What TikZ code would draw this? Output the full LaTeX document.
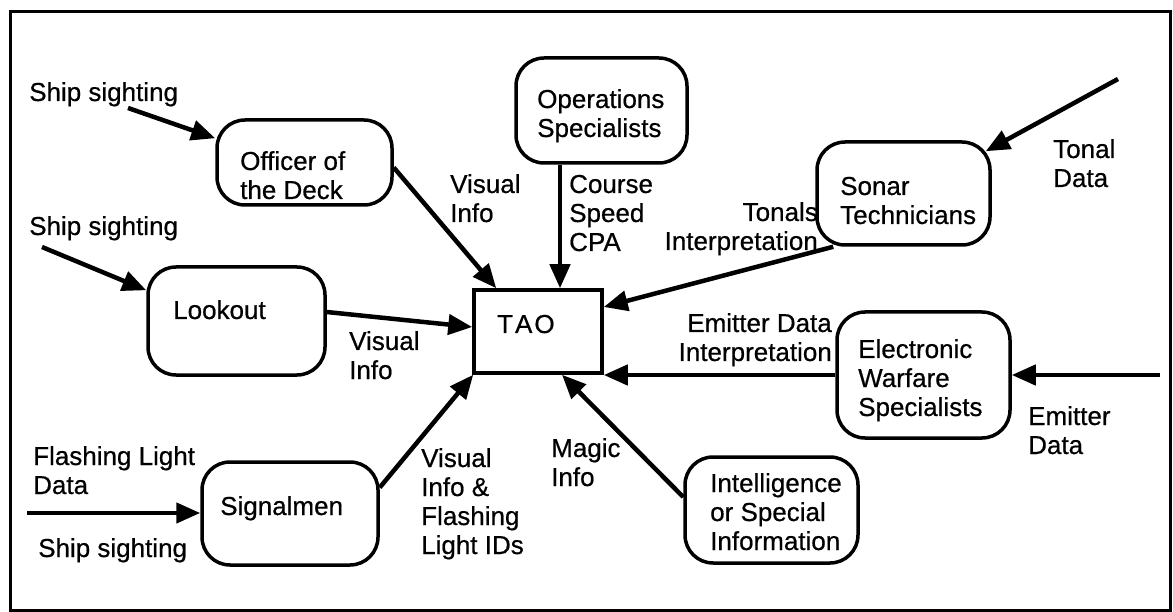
\documentclass[tikz,border=0pt]{standalone}
\usepackage{fontspec}
\setmainfont{Liberation Sans}[FakeBold=0.6]
\usetikzlibrary{arrows.meta,fit}
\newcommand\mlL[1]{\begin{tabular}[t]{@{}l@{}}#1\end{tabular}}
\newcommand\mlR[1]{\begin{tabular}[t]{@{}r@{}}#1\end{tabular}}
\begin{document}
\begin{tikzpicture}[x=1pt,y=-1pt,
  box/.style={draw, line width=3.5pt, rounded corners=28pt, inner sep=0pt},
  sq/.style={draw, line width=3.5pt, inner sep=0pt},
  lbl/.style={anchor=base west, inner sep=0pt, font=\fontsize{26}{29}\selectfont},
  lblr/.style={lbl, anchor=base east},
  arr/.style={line width=4.5pt, -{Triangle[length=24pt,width=20pt]}}]
\useasboundingbox (0,0) rectangle (1173,612);
\node[sq, line width=3pt, fit={(10,12) (1170,610)}] (frame) {};
% boxes
\node[box, fit={(217,120) (392,205)}] (off) {};
\node[box, fit={(516,58) (687,163)}] (ops) {};
\node[box, fit={(817,142) (990,245)}] (son) {};
\node[box, fit={(148,267) (325,375)}] (look) {};
\node[sq,  fit={(474,290) (602,373)}] (tao) {};
\node[box, fit={(837,312) (1010,438)}] (ew) {};
\node[box, fit={(202,462) (378,565)}] (sig) {};
\node[box, fit={(685,457) (858,563)}] (int) {};
% box texts
\node[lbl] (toff) at (240,170) {\mlL{Officer of\\the Deck}};
\node[lbl] (tops) at (537,108) {\mlL{Operations\\Specialists}};
\node[lbl] (tson) at (840,195) {\mlL{Sonar\\Technicians}};
\node[lbl] (tlook) at (173,319) {Lookout};
\node[lbl] (ttao) at (497,333) {T\kern2pt A\kern2pt O};
\node[lbl] (tew) at (858,358) {\mlL{Electronic\\Warfare\\Specialists}};
\node[lbl] (tsig) at (220,515) {Signalmen};
\node[lbl] (tint) at (710,492) {\mlL{Intelligence\\or Special\\Information}};
% free ends
\coordinate (s1) at (128,108);
\coordinate (s2) at (42,247);
\coordinate (s3) at (27,513);
\coordinate (td) at (1118,79);
\coordinate (ed) at (1160,375);
\coordinate (opsin) at ([xshift=22pt]tao.north);
% connectors
\draw[arr] (s1) -- ([yshift=-20pt]off.north west);
\draw[arr] (s2) -- ([yshift=-25pt]look.north west);
\draw[arr] (s3) -- (s3 -| sig.west);
\draw[arr] ([yshift=-5pt]off.east) -- ([xshift=24pt]tao.north west);
\draw[arr] (ops.south -| opsin) -- (opsin);
\draw[arr] ([xshift=18pt]son.south west) -- ([yshift=24.5pt]tao.east);
\draw[arr] (td) -- ([xshift=-6pt,yshift=-11pt]son.north east);
\draw[arr] ([yshift=9pt]look.east) -- ([yshift=4.5pt]tao.west);
\draw[arr] (ew.west) -- (ew.west -| tao.east);
\draw[arr] (ed) -- (ew.east);
\draw[arr] ([yshift=26pt]sig.east) -- ([xshift=1pt]tao.south west);
\draw[arr] ([yshift=13pt]int.west) -- ([xshift=24pt]tao.south);
% labels
\node[lbl] (lss1) at (29,101) {Ship sighting};
\node[lbl] (lss2) at (29,235) {Ship sighting};
\node[lbl] (lvis1) at (450,193) {\mlL{Visual\\Info}};
\node[lbl] (lcourse) at (569,193) {\mlL{Course\\Speed\\CPA}};
\node[lblr] (ltonals) at (818,221) {\mlR{Tonals\hspace{18pt}\\Interpretation}};
\node[lbl] (ltonal) at (1053,158) {\mlL{Tonal\\Data}};
\node[lbl] (lvis2) at (349,350) {\mlL{Visual\\Info}};
\node[lblr] (lemit) at (832,332) {\mlR{Emitter Data\\Interpretation}};
\node[lbl] (lemit2) at (1028,425) {\mlL{Emitter\\Data}};
\node[lbl] (lflash) at (33,465) {\mlL{Flashing Light\\Data}};
\node[lbl] (lss3) at (38,557) {Ship sighting};
\node[lbl] (lvis3) at (421,467) {\mlL{Visual\\Info \&\\Flashing\\Light IDs}};
\node[lbl] (lmagic) at (551,457) {\mlL{Magic\\Info}};
\end{tikzpicture}
\end{document}
